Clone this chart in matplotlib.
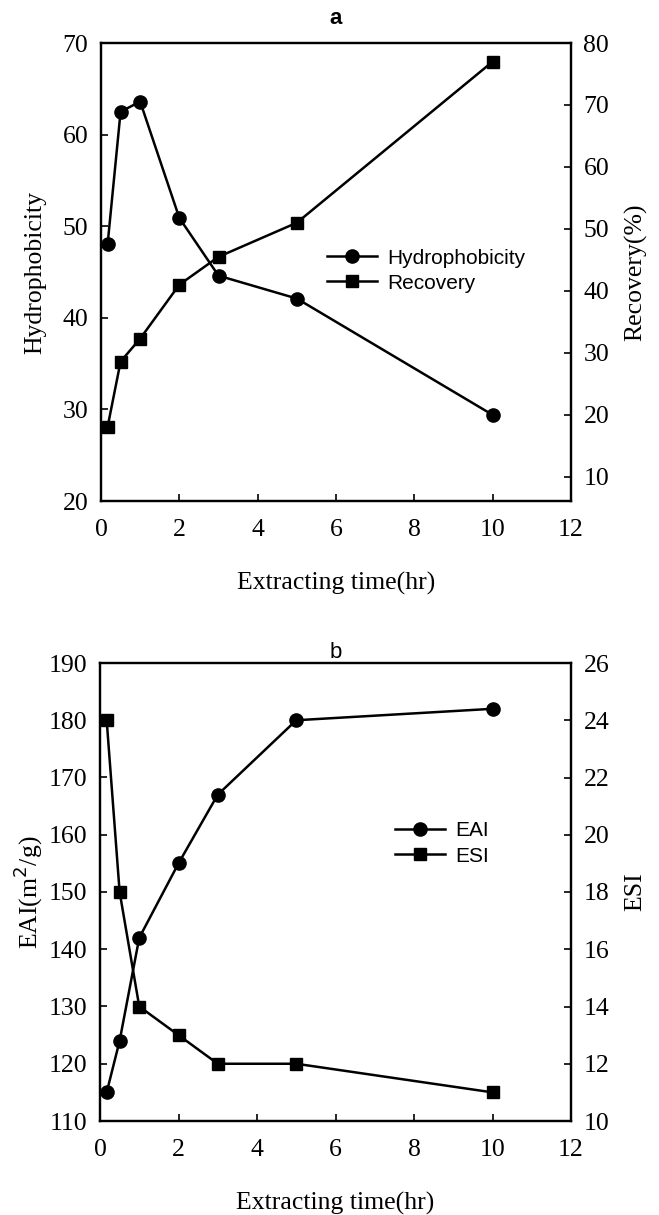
import matplotlib
matplotlib.use("Agg")
import matplotlib.pyplot as plt
from matplotlib.lines import Line2D

# extraction times (hr)
time_hr = [0.17, 0.5, 1, 2, 3, 5, 10]

# panel a
hydrophobicity = [48.1, 62.5, 63.6, 50.9, 44.6, 42.1, 29.4]
recovery = [18.1, 28.6, 32.3, 41.0, 45.5, 51.0, 77.0]

# panel b
eai = [115, 124, 142, 155, 167, 180, 182]
esi = [24, 18, 14, 13, 12, 12, 11]

serif = "Liberation Serif"
sans = "Liberation Sans"
FS = 18.5

fig = plt.figure(figsize=(6.59, 12.15), dpi=100)


def style_axis(ax):
    ax.tick_params(direction="in", length=5, width=1.2, labelsize=FS,
                   top=False)
    ax.tick_params(axis="x", pad=13)
    ax.tick_params(axis="y", pad=9)
    for lab in ax.get_xticklabels() + ax.get_yticklabels():
        lab.set_fontfamily(serif)
    for sp in ax.spines.values():
        sp.set_linewidth(1.6)


def panel(rect, x, y1, y2, lab1, lab2, ylim1, yt1, ylim2, yt2,
          ylab1, ylab2, title, title_bold, leg_anchor, lpad_left):
    ax = fig.add_axes(rect)
    ax2 = ax.twinx()
    kw = dict(color="black", lw=1.8, clip_on=False, zorder=3)
    ax.plot(x, y1, marker="o", ms=9.5, **kw)
    ax2.plot(x, y2, marker="s", ms=8.5, **kw)

    ax.set_xlim(0, 12)
    ax.set_xticks(range(0, 13, 2))
    ax.set_ylim(*ylim1)
    ax.set_yticks(yt1)
    ax2.set_ylim(*ylim2)
    ax2.set_yticks(yt2)
    style_axis(ax)
    style_axis(ax2)

    ax.set_xlabel("Extracting time(hr)", fontfamily=serif, fontsize=FS,
                  labelpad=22)
    ax.set_ylabel(ylab1, fontfamily=serif, fontsize=FS, labelpad=lpad_left)
    ax2.set_ylabel(ylab2, fontfamily=serif, fontsize=FS, labelpad=11)
    ax.set_title(title, fontfamily=sans, fontsize=16,
                 fontweight="bold" if title_bold else "normal",
                 pad=14 if title_bold else -1)

    handles = [Line2D([], [], color="black", lw=1.8, marker="o", ms=9.5),
               Line2D([], [], color="black", lw=1.8, marker="s", ms=8.5)]
    ax2.legend(handles, [lab1, lab2], loc="center left",
               bbox_to_anchor=leg_anchor, frameon=False, borderpad=0,
               borderaxespad=0, prop={"family": sans, "size": 15},
               handlelength=2.4, handletextpad=0.5, labelspacing=0.3)
    return ax, ax2


panel([101 / 659, 1 - 501 / 1215, 470 / 659, 458 / 1215], time_hr,
      hydrophobicity, recovery, "Hydrophobicity", "Recovery",
      (20, 70), range(20, 71, 10), (6.1, 80), range(10, 81, 10),
      "Hydrophobicity", "Recovery(%)", "a", True, (0.481, 0.503), 12)

panel([100 / 659, 1 - 1121 / 1215, 471 / 659, 458 / 1215], time_hr,
      eai, esi, "EAI", "ESI", (110, 190), range(110, 191, 10),
      (10, 26), range(10, 27, 2), "EAI(m$^2$/g)", "ESI",
      "b", False, (0.626, 0.606), 3)

fig.savefig("out.png", dpi=100)
